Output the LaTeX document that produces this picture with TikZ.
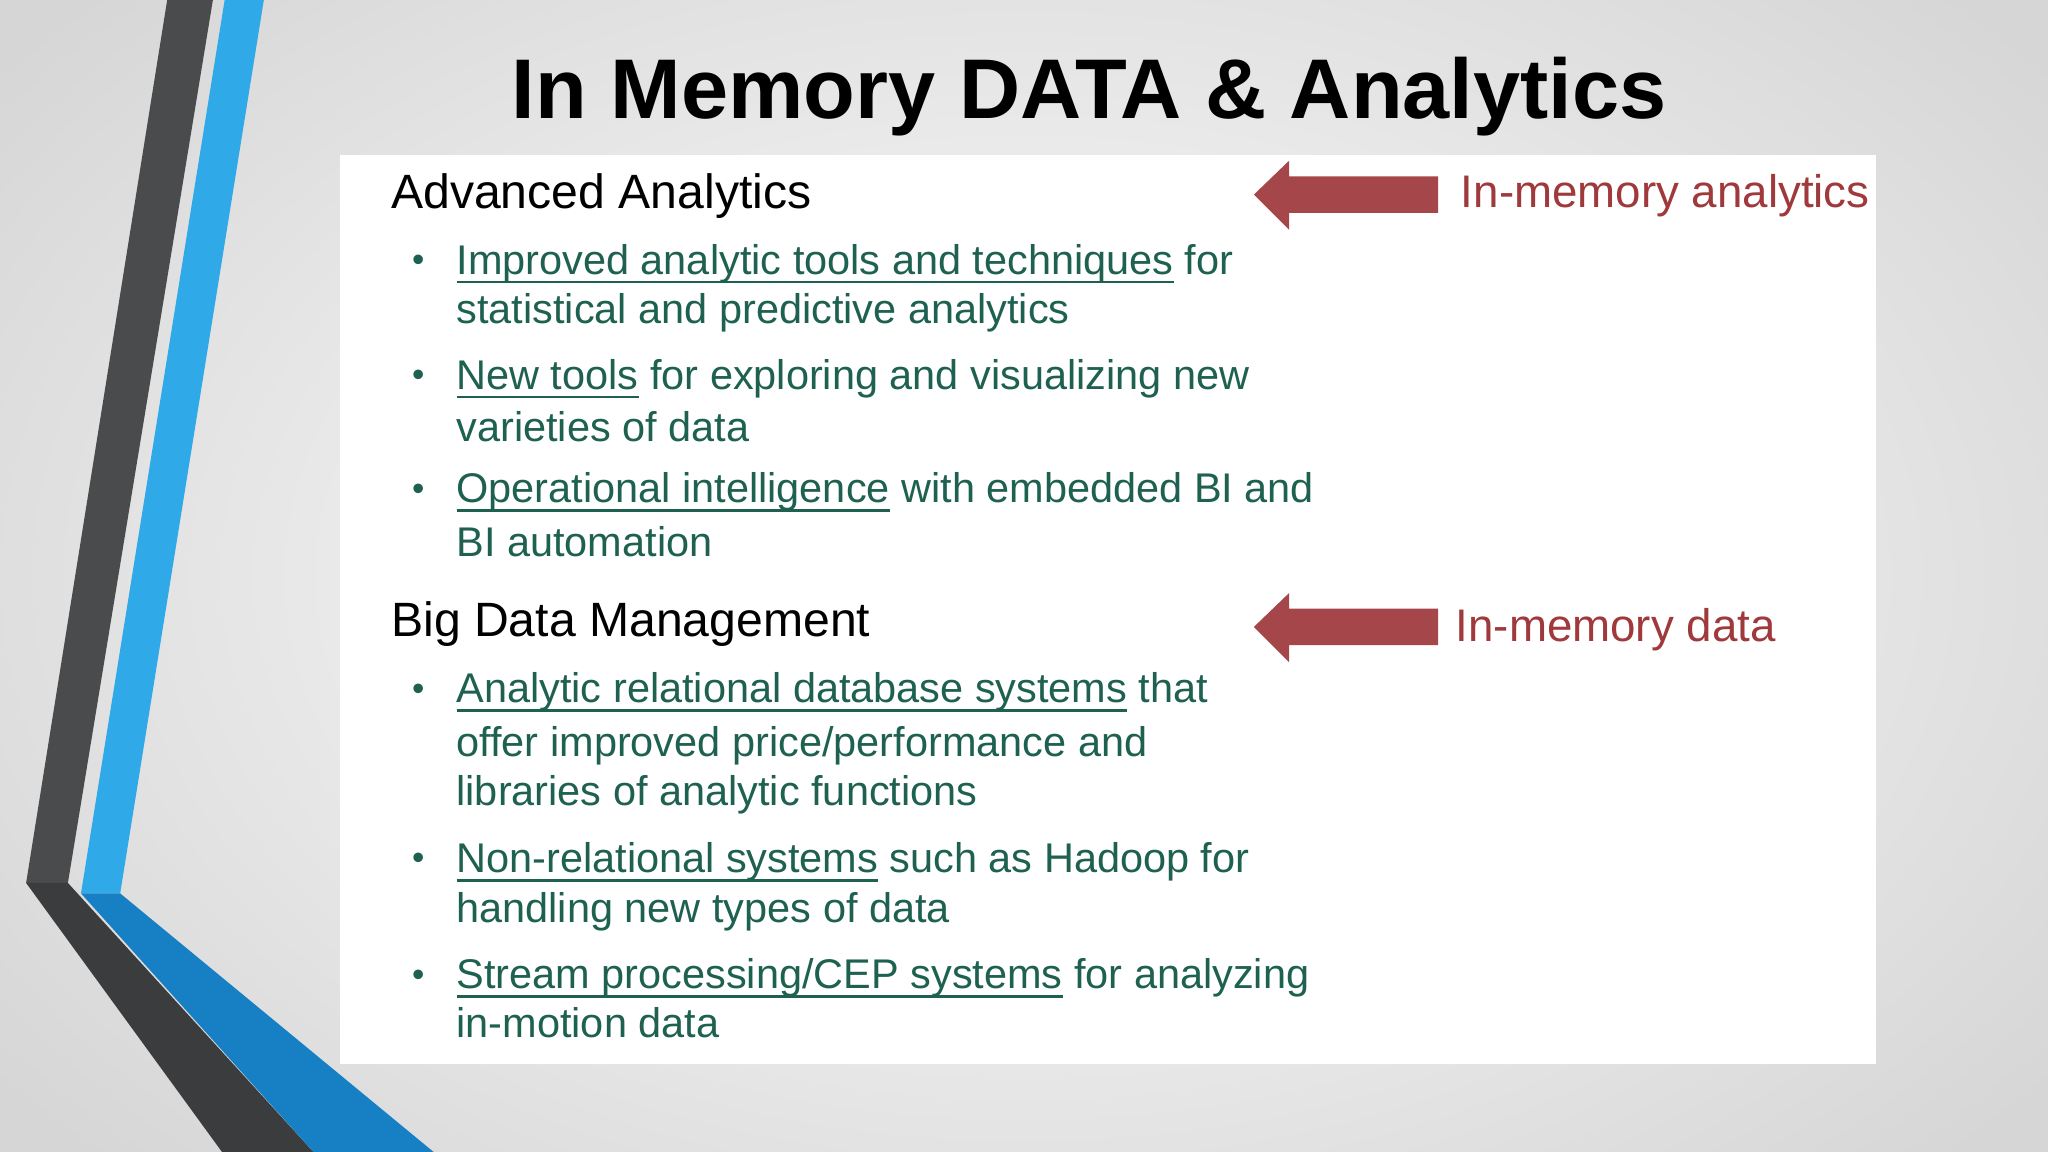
\documentclass[tikz,border=0pt]{standalone}
\usepackage{fontspec}
\setmainfont{Liberation Sans}
\usetikzlibrary{shadings}
\definecolor{txtgreen}{HTML}{1E6150}
\definecolor{arrowred}{HTML}{A5474A}
\definecolor{lblred}{HTML}{A0393C}
\definecolor{dgray}{HTML}{4A4B4D}
\definecolor{blueb}{HTML}{2FA9E8}
\definecolor{blued}{HTML}{1780C4}
\tikzset{
 head/.style={anchor=base west,font=\fontsize{13.7}{16}\selectfont,text=black,inner sep=0},
 body/.style={anchor=base west,font=\fontsize{11.8}{14}\selectfont,text=txtgreen,inner sep=0},
 bul/.style={anchor=base west,font=\fontsize{10}{12}\selectfont,text=txtgreen,inner sep=0},
 lbl/.style={anchor=base west,font=\fontsize{13}{16}\selectfont,text=lblred,inner sep=0},
 bigarrow/.style={fill=arrowred,draw=none}
}
\newcommand{\ul}[1]{\setbox0\hbox{#1}\rlap{\raisebox{-2.6pt}{\color{txtgreen}\rule{\wd0}{0.75pt}}}\box0\relax}
\begin{document}
\begin{tikzpicture}[x=0.013061cm,y=-0.013061cm]
\useasboundingbox (0,0) rectangle (1568,882);
\path[clip] (0,0) rectangle (1568,882);
\shade[inner color=white,outer color=gray!32] (-200,-200) rectangle (1768,1082);
% left decoration
\fill[dgray] (128,0) -- (163,0) -- (52,676) -- (20,676) -- cycle;
\fill[dgray!80!black] (20,676) -- (52,676) -- (240,882) -- (170,882) -- cycle;
\fill[blueb] (172,0) -- (202,0) -- (92,684) -- (62,684) -- cycle;
\fill[blued] (62,684) -- (92,684) -- (332,882) -- (240,882) -- cycle;
% title
\node[anchor=base,font=\bfseries\fontsize{24.1}{28}\selectfont,inner sep=0] (title) at (834,91) {In Memory DATA \& Analytics};
% panel
\fill[white] (260,119) rectangle (1436,815);
% section 1
\node[head] (h1) at (299,160) {Advanced Analytics};
\node[bul] (b1) at (315,208) {•};
\node[body] (t1a) at (349,210) {\ul{Improved analytic tools and techniques} for};
\node[body] (t1b) at (349,248) {statistical and predictive analytics};
\node[bul] (b2) at (315,296) {•};
\node[body] (t2a) at (349,298) {\ul{New tools} for exploring and visualizing new};
\node[body] (t2b) at (349,338) {varieties of data};
\node[bul] (b3) at (315,383) {•};
\node[body] (t3a) at (349,385) {\ul{Operational intelligence} with embedded BI and};
\node[body] (t3b) at (349,426) {BI automation};
% section 2
\node[head] (h2) at (299,487) {Big Data Management};
\node[bul] (b4) at (315,536) {•};
\node[body] (t4a) at (349,538) {\ul{Analytic relational database systems} that};
\node[body] (t4b) at (349,579) {offer improved price/performance and};
\node[body] (t4c) at (349,617) {libraries of analytic functions};
\node[bul] (b5) at (315,666) {•};
\node[body] (t5a) at (349,668) {\ul{Non-relational systems} such as Hadoop for};
\node[body] (t5b) at (349,706) {handling new types of data};
\node[bul] (b6) at (315,755) {•};
\node[body] (t6a) at (349,757) {\ul{Stream processing/CEP systems} for analyzing};
\node[body] (t6b) at (349,794) {in-motion data};
% arrows
\fill[bigarrow] (960,149) -- (987,123) -- (987,135) -- (1101,135) -- (1101,163) -- (987,163) -- (987,176) -- cycle;
\fill[bigarrow] (960,480) -- (987,454) -- (987,466) -- (1101,466) -- (1101,494) -- (987,494) -- (987,507) -- cycle;
\node[lbl] (l1) at (1118,159) {In-memory analytics};
\node[lbl] (l2) at (1114,491) {In-memory data};
\end{tikzpicture}
\end{document}
